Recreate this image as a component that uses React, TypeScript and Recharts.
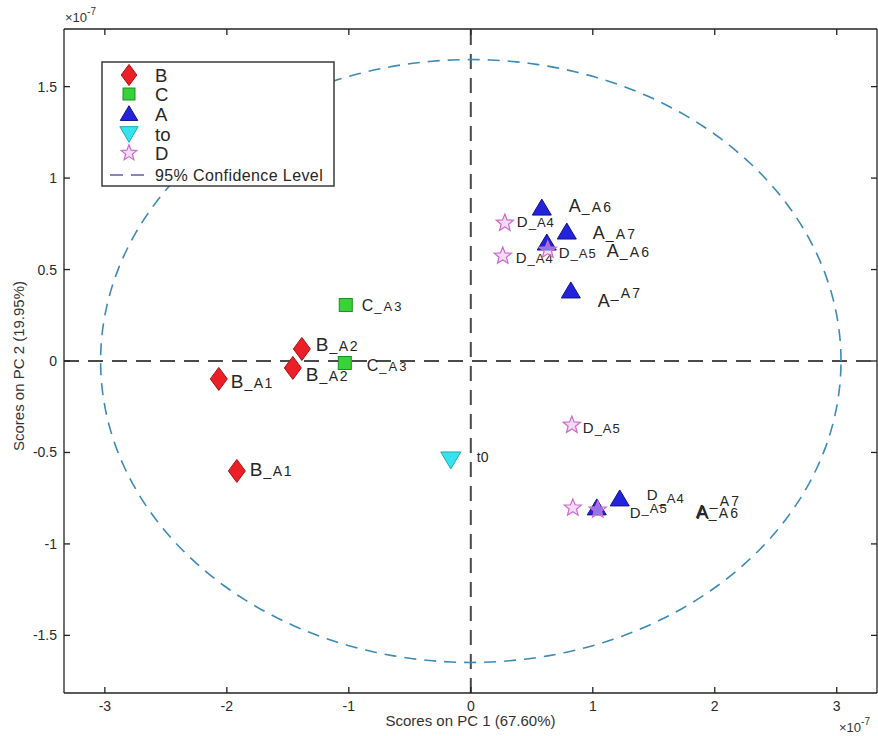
import React from 'react';
import { ScatterChart, Scatter, XAxis, YAxis, ReferenceLine, Label } from 'recharts';

const FONT = '"Liberation Sans", Arial, Helvetica, sans-serif';

// Axis ticks (scores in units of 1e-7)
const xTicks = [-3, -2, -1, 0, 1, 2, 3];
const yTicks = [-1.5, -1, -0.5, 0, 0.5, 1, 1.5];
const xDomain = [-3.335, 3.33];
const yDomain = [-1.815, 1.815];

// Group B
const bX = [-2.066, -1.918, -1.385, -1.459];
const bY = [-0.098, -0.601, 0.066, -0.038];
const bNames = ['B_A1', 'B_A1', 'B_A2', 'B_A2'];

// Group C
const cX = [-1.025, -1.033];
const cY = [0.306, -0.011];
const cNames = ['C_A3', 'C_A3'];

// Group A
const aX = [0.582, 0.787, 0.623, 0.82, 1.221, 1.033];
const aY = [0.836, 0.705, 0.645, 0.383, -0.754, -0.803];
const aNames = ['A_A6', 'A_A7', 'A_A6', 'A_A7', 'A_A7', 'A_A6'];

// Baseline t0
const tX = [-0.164];
const tY = [-0.541];
const tNames = ['t0'];

// Group D
const dX = [0.279, 0.262, 0.631, 0.828, 0.836, 1.041];
const dY = [0.754, 0.574, 0.607, -0.35, -0.803, -0.814];
const dNames = ['D_A4', 'D_A4', 'D_A5', 'D_A5', 'D_A5', 'D_A4'];

// 95% confidence ellipse semi-axes
const ELLIPSE_RX = 3.035;
const ELLIPSE_RY = 1.648;
const ELLIPSE_STEPS = 240;

// Text placement for point labels: [dx, dy, suffix baseline shift] in px
const bNudge = [[12, 2, 0], [13, -2, 0], [14, -5, 0], [13, 6, 0]];
const cNudge = [[16, 0, 0], [22, 2, 0]];
const aNudge = [[27, -3, 0], [26, 0, 0], [60, 8, 0], [27, 10, -9], [77, 14, -13], [99, 4, 0]];
const tNudge = [[26, -3, 0]];
const dNudge = [[12, -1, 0], [13, 2, 0], [11, 3, 0], [11, 3, 0], [57, 5, -5], [49, -15, 3]];

const toRows = (xs: number[], ys: number[], names: string[], nudges: number[][]) =>
  xs.map((x, i) => ({ x, y: ys[i], name: names[i], nudge: nudges[i] }));

const ellipseRows = Array.from({ length: ELLIPSE_STEPS + 1 }, (_, i) => {
  const t = (i / ELLIPSE_STEPS) * Math.PI * 2;
  return { x: ELLIPSE_RX * Math.cos(t), y: ELLIPSE_RY * Math.sin(t) };
});

type Glyph = 'diamond' | 'square' | 'triUp' | 'triDown' | 'star';

const STYLES: Record<Glyph, { fill: string; stroke: string; fillOpacity?: number }> = {
  diamond: { fill: '#ea2026', stroke: '#a8141a' },
  square: { fill: '#38d338', stroke: '#1d8f1d' },
  triUp: { fill: '#2323dc', stroke: '#12128c' },
  triDown: { fill: '#34e4ec', stroke: '#22aab2' },
  star: { fill: '#eebcee', stroke: '#cc6acc', fillOpacity: 0.55 },
};

function starPoints(cx: number, cy: number, ro: number, ri: number) {
  const pts: string[] = [];
  for (let k = 0; k < 10; k++) {
    const r = k % 2 === 0 ? ro : ri;
    const a = -Math.PI / 2 + (k * Math.PI) / 5;
    pts.push(`${cx + r * Math.cos(a)},${cy + r * Math.sin(a)}`);
  }
  return pts.join(' ');
}

function GlyphShape({ kind, cx, cy, scale = 1 }: { kind: Glyph; cx: number; cy: number; scale?: number }) {
  const s = STYLES[kind];
  const common = { fill: s.fill, stroke: s.stroke, strokeWidth: 1, fillOpacity: s.fillOpacity ?? 1 };
  const k = scale;
  switch (kind) {
    case 'diamond':
      return <polygon points={`${cx},${cy - 11.5 * k} ${cx + 8.5 * k},${cy} ${cx},${cy + 11.5 * k} ${cx - 8.5 * k},${cy}`} {...common} />;
    case 'square':
      return <rect x={cx - 6.5 * k} y={cy - 6.5 * k} width={13 * k} height={13 * k} {...common} />;
    case 'triUp':
      return <polygon points={`${cx},${cy - 9 * k} ${cx + 9.5 * k},${cy + 7 * k} ${cx - 9.5 * k},${cy + 7 * k}`} {...common} />;
    case 'triDown':
      return <polygon points={`${cx - 10 * k},${cy - 8 * k} ${cx + 10 * k},${cy - 8 * k} ${cx},${cy + 9 * k}`} {...common} />;
    default:
      return <polygon points={starPoints(cx, cy, 9 * k, 3.9 * k)} {...common} strokeWidth={1.2} />;
  }
}

// [main letter size, suffix size, suffix letter spacing]
const LABEL_SIZES: Record<Glyph, [number, number, number]> = {
  diamond: [19, 14, 1.5],
  square: [16, 13, 2],
  triUp: [18, 14, 2.2],
  triDown: [14, 14, 0.5],
  star: [15, 13, 1],
};

function makeShape(kind: Glyph) {
  return (props: any) => {
    const { cx, cy, payload } = props;
    if (cx == null || cy == null) return <g />;
    const [dx, dy, shift] = payload.nudge as number[];
    const name: string = payload.name;
    const cut = name.indexOf('_');
    const main = cut >= 0 ? name.slice(0, cut) : name;
    const rest = cut >= 0 ? name.slice(cut) : '';
    const [mainSize, restSize, spacing] = LABEL_SIZES[kind];
    return (
      <g>
        <GlyphShape kind={kind} cx={cx} cy={cy} />
        <text x={cx + dx} y={cy + dy + mainSize * 0.36} fontFamily={FONT} fill="#262626">
          <tspan fontSize={mainSize}>{main}</tspan>
          {rest && (
            <tspan fontSize={restSize} dx={1} dy={shift} letterSpacing={spacing}>
              {rest}
            </tspan>
          )}
        </text>
      </g>
    );
  };
}

const legendItems: { label: string; kind: Glyph }[] = [
  { label: 'B', kind: 'diamond' },
  { label: 'C', kind: 'square' },
  { label: 'A', kind: 'triUp' },
  { label: 'to', kind: 'triDown' },
  { label: 'D', kind: 'star' },
];

function LegendBox() {
  const rowY = [75, 94, 114, 134, 153];
  return (
    <svg width={236} height={128} style={{ position: 'absolute', left: 101, top: 61 }}>
      <rect x={1} y={1} width={232} height={124} fill="#fff" stroke="#3a3a3a" strokeWidth={1.5} />
      {legendItems.map((it, i) => (
        <g key={it.label}>
          <GlyphShape kind={it.kind} cx={28} cy={rowY[i] - 61} scale={0.92} />
          <text x={54} y={rowY[i] - 61 + 6.5} fontSize={18.5} fontFamily={FONT} fill="#262626">
            {it.label}
          </text>
        </g>
      ))}
      <line x1={9} x2={46} y1={114} y2={114} stroke="#8a80c6" strokeWidth={1.8} strokeDasharray="13 8" />
      <text x={54} y={120} fontSize={16} letterSpacing={0.4} fontFamily={FONT} fill="#262626">
        95% Confidence Level
      </text>
    </svg>
  );
}

const tickStyle = { fontSize: 14, fontFamily: FONT, fill: '#2a2a2a' };
const fmt = (v: number) => String(v);
const frameStroke = { stroke: '#222', strokeWidth: 1.3 };

export default function App() {
  return (
    <div style={{ position: 'absolute', left: 0, top: 0, width: 878, height: 736, background: '#fff' }}>
      <ScatterChart width={878} height={736} margin={{ top: 28, right: 0, bottom: 13, left: 0 }}>
        <XAxis
          xAxisId="b"
          type="number"
          dataKey="x"
          orientation="bottom"
          height={30}
          domain={xDomain}
          allowDataOverflow
          ticks={xTicks}
          tickFormatter={fmt}
          tickSize={-6}
          tickMargin={14}
          tick={tickStyle}
          axisLine={frameStroke}
          tickLine={frameStroke}
        >
          <Label
            content={({ viewBox }: any) => (
              <g fontFamily={FONT} fill="#333">
                <text x={viewBox.x + viewBox.width / 2} y={viewBox.y + 33} textAnchor="middle" fontSize={15}>
                  Scores on PC 1 (67.60%)
                </text>
                <text x={viewBox.x + viewBox.width - 38} y={viewBox.y + 39} fontSize={13}>
                  ×10
                  <tspan fontSize={10} dy={-7}>
                    -7
                  </tspan>
                </text>
              </g>
            )}
          />
        </XAxis>
        <XAxis
          xAxisId="t"
          type="number"
          dataKey="x"
          orientation="top"
          height={1}
          domain={xDomain}
          allowDataOverflow
          ticks={xTicks}
          tickSize={-6}
          tick={() => <g />}
          axisLine={frameStroke}
          tickLine={frameStroke}
        >
          <Label
            content={({ viewBox }: any) => (
              <text x={viewBox.x + 1} y={viewBox.y - 6} fontSize={13} fontFamily={FONT} fill="#333">
                ×10
                <tspan fontSize={10} dy={-7}>
                  -7
                </tspan>
              </text>
            )}
          />
        </XAxis>
        <YAxis
          yAxisId="l"
          type="number"
          dataKey="y"
          width={64}
          domain={yDomain}
          allowDataOverflow
          ticks={yTicks}
          tickFormatter={fmt}
          tickSize={-6}
          tickMargin={13}
          tick={tickStyle}
          axisLine={frameStroke}
          tickLine={frameStroke}
        >
          <Label
            content={({ viewBox }: any) => {
              const cx = viewBox.x + 18;
              const cy = viewBox.y + viewBox.height / 2 + 5;
              return (
                <text
                  x={cx}
                  y={cy}
                  transform={`rotate(-90 ${cx} ${cy})`}
                  textAnchor="middle"
                  dominantBaseline="central"
                  fontSize={15}
                  fontFamily={FONT}
                  fill="#333"
                >
                  Scores on PC 2 (19.95%)
                </text>
              );
            }}
          />
        </YAxis>
        <YAxis
          yAxisId="r"
          type="number"
          dataKey="y"
          orientation="right"
          width={1}
          domain={yDomain}
          allowDataOverflow
          ticks={yTicks}
          tickSize={-6}
          tick={() => <g />}
          axisLine={frameStroke}
          tickLine={frameStroke}
        />

        <ReferenceLine xAxisId="b" yAxisId="l" x={0} stroke="#4a4a4a" strokeWidth={2} strokeDasharray="15 9" />
        <ReferenceLine xAxisId="b" yAxisId="l" y={0} stroke="#4a4a4a" strokeWidth={2} strokeDasharray="15 9" />

        {/* The ellipse shares the frame axes (same domains) so the top and right frame render */}
        <Scatter
          xAxisId="t"
          yAxisId="r"
          name="95% Confidence Level"
          data={ellipseRows}
          line={{ stroke: '#3c8ab6', strokeWidth: 1.6, strokeDasharray: '12 8' }}
          lineType="joint"
          shape={() => <g />}
          isAnimationActive={false}
        />

        <Scatter xAxisId="b" yAxisId="l" name="B" data={toRows(bX, bY, bNames, bNudge)} shape={makeShape('diamond')} isAnimationActive={false} />
        <Scatter xAxisId="b" yAxisId="l" name="C" data={toRows(cX, cY, cNames, cNudge)} shape={makeShape('square')} isAnimationActive={false} />
        <Scatter xAxisId="b" yAxisId="l" name="A" data={toRows(aX, aY, aNames, aNudge)} shape={makeShape('triUp')} isAnimationActive={false} />
        <Scatter xAxisId="b" yAxisId="l" name="t0" data={toRows(tX, tY, tNames, tNudge)} shape={makeShape('triDown')} isAnimationActive={false} />
        <Scatter xAxisId="b" yAxisId="l" name="D" data={toRows(dX, dY, dNames, dNudge)} shape={makeShape('star')} isAnimationActive={false} />
      </ScatterChart>
      <LegendBox />
    </div>
  );
}
